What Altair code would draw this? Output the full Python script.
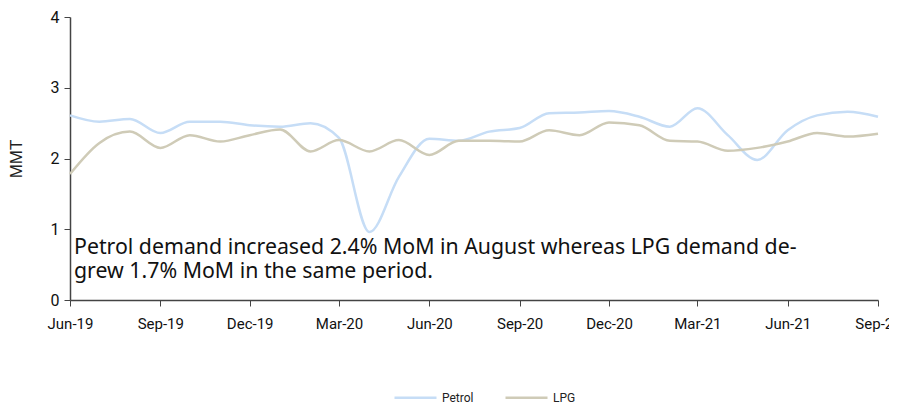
import altair as alt
import pandas as pd

months = pd.date_range("2019-06-01", "2021-09-01", freq="MS").strftime("%Y-%m-%d").tolist()
petrol = [2.61, 2.52, 2.56, 2.36, 2.52, 2.52, 2.47, 2.45, 2.50, 2.29, 0.96, 1.74,
          2.28, 2.25, 2.38, 2.43, 2.64, 2.65, 2.67, 2.59, 2.45, 2.71, 2.33, 1.98,
          2.40, 2.61, 2.66, 2.59]
lpg = [1.78, 2.22, 2.38, 2.15, 2.33, 2.24, 2.33, 2.41, 2.10, 2.26, 2.10, 2.26,
       2.05, 2.25, 2.25, 2.24, 2.40, 2.33, 2.51, 2.47, 2.25, 2.24, 2.11, 2.15,
       2.24, 2.36, 2.31, 2.35]
tick_dates = ["2019-06-01", "2019-09-01", "2019-12-01", "2020-03-01", "2020-06-01",
              "2020-09-01", "2020-12-01", "2021-03-01", "2021-06-01", "2021-09-01"]
note_lines = ["Petrol demand increased 2.4% MoM in August whereas LPG demand de-",
              "grew 1.7% MoM in the same period."]

df = pd.DataFrame({
    "month": months * 2,
    "value": petrol + lpg,
    "series": ["Petrol"] * len(months) + ["LPG"] * len(months),
})

axis_font = "Roboto, Liberation Sans, sans-serif"

lines = alt.Chart(df).mark_line(interpolate="monotone", strokeWidth=2.5).encode(
    x=alt.X("month:T",
            scale=alt.Scale(domain=["2019-06-01", "2021-09-01"], nice=False),
            axis=alt.Axis(values=tick_dates, format="%b-%y", title=None, grid=False,
                          labelFont=axis_font, labelFontSize=15, labelColor="#111",
                          labelPadding=10, tickSize=6, tickColor="#444",
                          domainColor="#444", labelOverlap=False,
                          labelFlush=False)),
    y=alt.Y("value:Q",
            scale=alt.Scale(domain=[0, 4], nice=False),
            axis=alt.Axis(values=[0, 1, 2, 3, 4], title="MMT", grid=False,
                          labelFont=axis_font, labelFontSize=16, labelColor="#111",
                          labelPadding=5,
                          tickSize=6, tickColor="#444", domainColor="#444",
                          titleFont="Liberation Sans, Arial, sans-serif",
                          titleFontSize=17, titleFontWeight="normal",
                          titleColor="#222", titlePadding=25)),
    color=alt.Color("series:N",
                    scale=alt.Scale(domain=["Petrol", "LPG"], range=["#c6ddf6", "#cfcbb7"]),
                    legend=alt.Legend(title=None, orient="none", direction="horizontal",
                                      legendX=323, legendY=358, symbolType="stroke",
                                      symbolStrokeWidth=2.5, symbolSize=1764,
                                      labelFont=axis_font, labelFontSize=12,
                                      labelOffset=4,
                                      labelColor="#222", columnPadding=26)),
)

note_df = pd.DataFrame({"text": ["\n".join(note_lines)]})
note = alt.Chart(note_df).mark_text(
    align="left", baseline="alphabetic", fontSize=21.3, lineBreak="\n", lineHeight=24,
    font="Noto Sans, Liberation Sans, sans-serif", color="#111",
).encode(
    x=alt.value(4),
    y=alt.value(237),
    text="text:N",
)

chart = alt.layer(lines, note).properties(
    width=808, height=283,
    autosize=alt.AutoSizeParams(type="none"),
    padding={"left": 62, "top": 9, "right": 11, "bottom": 106},
).configure_view(stroke=None).configure_axis(domainWidth=1.5)

chart.save("out.html", embed_options={"renderer": "svg", "actions": False})
